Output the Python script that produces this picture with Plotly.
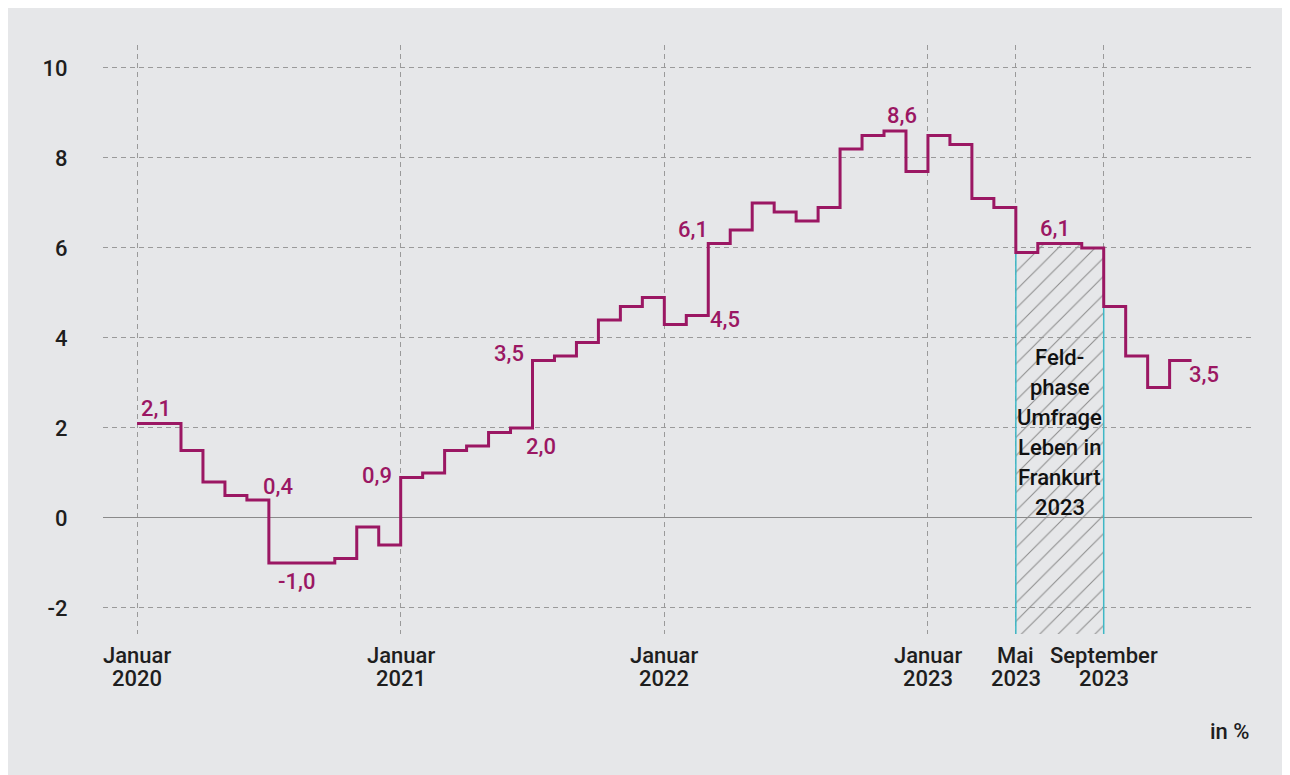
import plotly.graph_objects as go
import pandas as pd

# ---------------- data ----------------
months = [str(p) for p in pd.period_range("2020-01", "2023-12", freq="M")]
inflation = [
    2.1, 2.1, 1.5, 0.8, 0.5, 0.4, -1.0, -1.0, -1.0, -0.9, -0.2, -0.6,   # 2020
    0.9, 1.0, 1.5, 1.6, 1.9, 2.0, 3.5, 3.6, 3.9, 4.4, 4.7, 4.9,         # 2021
    4.3, 4.5, 6.1, 6.4, 7.0, 6.8, 6.6, 6.9, 8.2, 8.5, 8.6, 7.7,         # 2022
    8.5, 8.3, 7.1, 6.9, 5.9, 6.1, 6.1, 6.0, 4.7, 3.6, 2.9, 3.5,         # 2023
]
tick_months = ["2020-01", "2021-01", "2022-01", "2023-01", "2023-05", "2023-09"]
tick_line1 = ["Januar", "Januar", "Januar", "Januar", "Mai", "September"]
tick_line2 = ["2020", "2021", "2022", "2023", "2023", "2023"]
survey_start = "2023-05"
survey_end = "2023-09"
survey_text = ["Feld-", "phase", "Umfrage", "Leben in", "Frankurt", "2023"]
label_months = ["2020-01", "2020-06", "2020-07", "2021-01", "2021-07", "2021-06",
                "2022-03", "2022-02", "2022-11", "2023-06", "2023-12"]
y_ticks = [-2, 0, 2, 4, 6, 8, 10]

# ---------------- styles ----------------
LINE = "#9b1763"
CYAN = "#3fb8c6"
GRID = "#9a9a9a"
BG = "#e6e7e9"
TXT = "#1e1e1e"
FONT = "Roboto, Liberation Sans, Arial, sans-serif"
FW = 500
FS = 22
# pixel offsets of value labels (dx right, dy down) relative to the step start
label_offsets = [(19, -15), (31, -13), (28, 19), (-24, -2), (-24, -7), (30, 19),
                 (-15, -14), (39, 4), (18, -15), (17, -15), (34, 14)]

L, R, T, B = 95, 46, 37, 149
W, H = 1290, 775
Y_MIN, Y_MAX = -2.58, 10.51
X_MIN, X_MAX = -1.55, 50.75

idx = {m: i for i, m in enumerate(months)}
xs = list(range(len(months))) + [len(months)]
ys = inflation + [inflation[-1]]

fig = go.Figure()

# hatched survey period
s0, s1 = idx[survey_start], idx[survey_end]
hx, hy = [s0], [Y_MIN]
for i in range(s0, s1):
    hx += [i, i + 1]
    hy += [inflation[i], inflation[i]]
hx += [s1, s0]
hy += [Y_MIN, Y_MIN]
fig.add_trace(go.Scatter(
    x=hx, y=hy, mode="lines", fill="toself", line=dict(width=0),
    fillcolor="rgba(0,0,0,0)",
    fillpattern=dict(shape="/", fgcolor="#8c8c8c", bgcolor="rgba(0,0,0,0)",
                     size=13, solidity=0.08, fgopacity=1),
    hoverinfo="skip", showlegend=False))

# cyan borders of survey period
for xv, yv in [(s0, inflation[s0]), (s1, inflation[s1 - 1])]:
    fig.add_trace(go.Scatter(x=[xv, xv], y=[Y_MIN, yv], mode="lines",
                             line=dict(color=CYAN, width=1.5),
                             hoverinfo="skip", showlegend=False))

# main step line
fig.add_trace(go.Scatter(x=xs, y=ys, mode="lines", line=dict(color=LINE, width=3, shape="hv"),
                         showlegend=False))

# value labels
for m, (dx, dy) in zip(label_months, label_offsets):
    v = inflation[idx[m]]
    fig.add_annotation(x=idx[m], y=v, text=f"{v:.1f}".replace(".", ","),
                       showarrow=False, xanchor="center", yanchor="middle",
                       xshift=dx, yshift=-dy,
                       font=dict(family=FONT, size=FS, color=LINE, weight=FW))

# survey text
cx = (s0 + s1) / 2
for k, line in enumerate(survey_text):
    fig.add_annotation(x=cx, y=1.9, text=line, showarrow=False,
                       xanchor="center", yanchor="middle",
                       yshift=75 - 30 * k,
                       font=dict(family=FONT, size=FS, color="#111111", weight=FW))

# x tick labels (two lines, tight spacing)
for m, a, b in zip(tick_months, tick_line1, tick_line2):
    for txt, sh in [(a, -21), (b, -44)]:
        fig.add_annotation(x=idx[m], xref="x", yref="paper", y=0, text=txt,
                           showarrow=False, xanchor="center", yanchor="middle",
                           yshift=sh, font=dict(family=FONT, size=FS, color=TXT, weight=FW))

# unit
fig.add_annotation(xref="paper", yref="paper", x=1, y=0, yshift=-97,
                   text="in %", showarrow=False, xanchor="right", yanchor="middle",
                   font=dict(family=FONT, size=FS, color=TXT, weight=FW))

fig.update_layout(
    width=W, height=H,
    margin=dict(l=L, r=R, t=T, b=B, pad=0),
    paper_bgcolor=BG, plot_bgcolor=BG,
    font=dict(family=FONT, size=FS, color=TXT, weight=FW),
    showlegend=False,
)
fig.update_xaxes(
    range=[X_MIN, X_MAX], tickmode="array",
    tickvals=[idx[m] for m in tick_months], showticklabels=False,
    showgrid=True, gridcolor=GRID, gridwidth=1, griddash="5px,4px",
    zeroline=False, showline=False, ticks="",
)
fig.update_yaxes(
    range=[Y_MIN, Y_MAX], tickmode="array", tickvals=y_ticks,
    ticktext=[str(v) for v in y_ticks],
    showgrid=True, gridcolor=GRID, gridwidth=1, griddash="5px,4px",
    zeroline=True, zerolinecolor="#8a8a8a", zerolinewidth=1,
    showline=False,
    ticks="outside", ticklen=30, tickcolor="rgba(0,0,0,0)",
    tickfont=dict(family=FONT, size=FS, color=TXT, weight=FW),
)

fig.write_html("out.html")
